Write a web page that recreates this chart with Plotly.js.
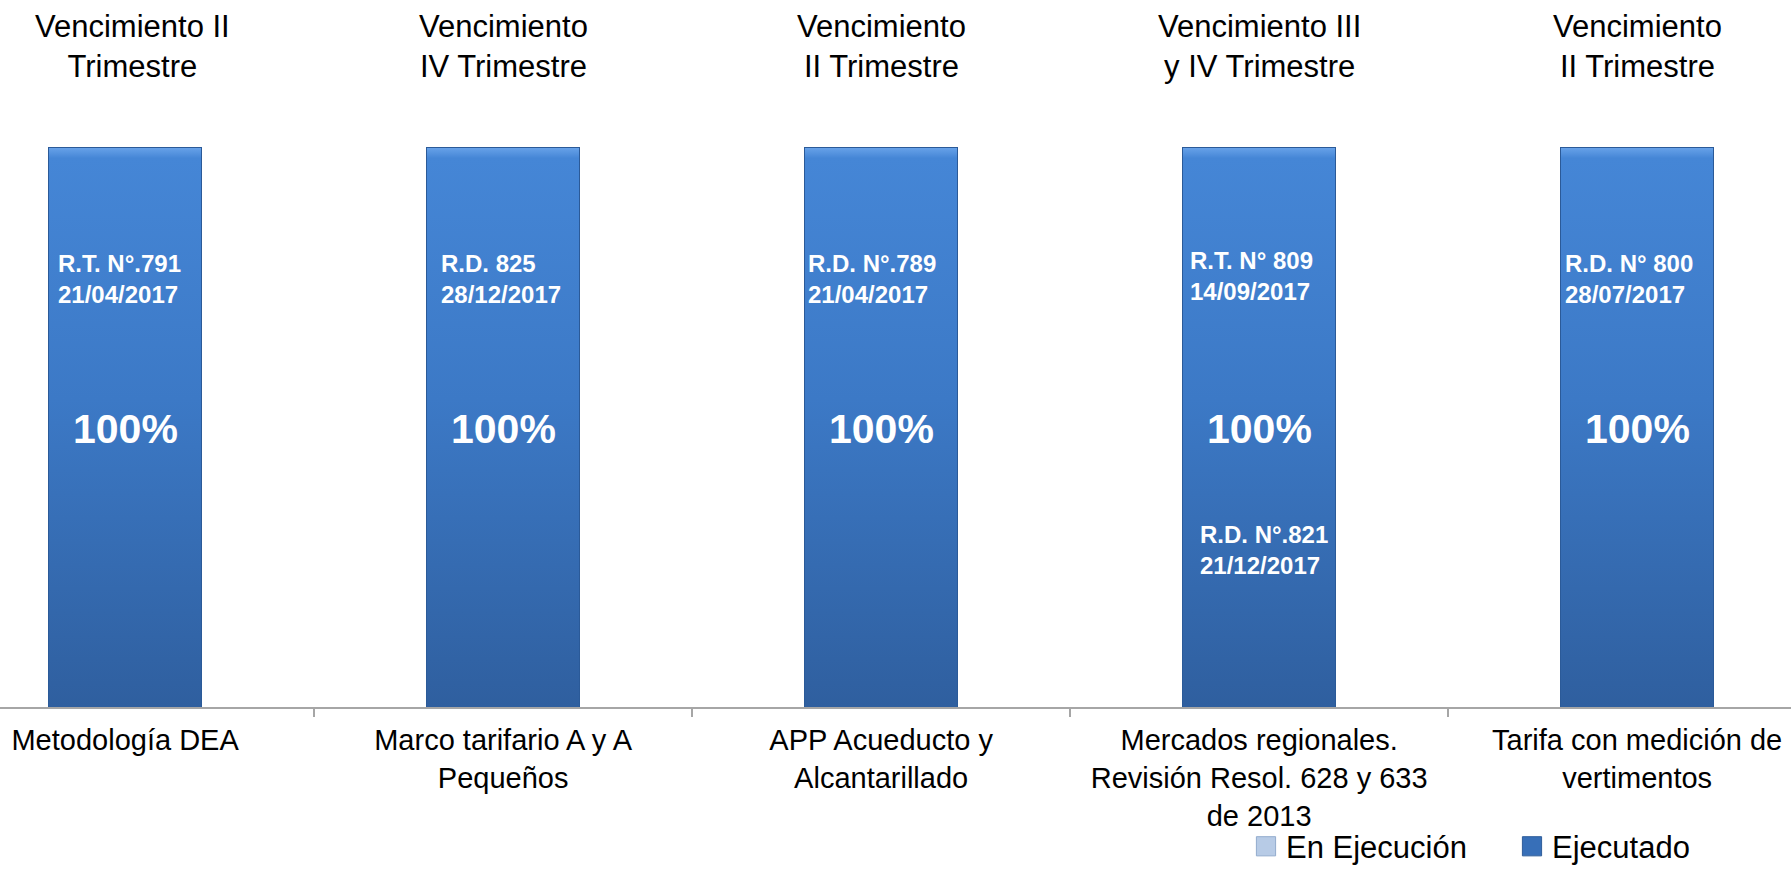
<!DOCTYPE html>
<html>
<head>
<meta charset="utf-8">
<script src="https://cdn.plot.ly/plotly-3.0.1.min.js"></script>
<style>
  html, body { margin: 0; padding: 0; background: #ffffff; }
  #chart { width: 1791px; height: 871px; }
</style>
</head>
<body>
<div id="chart"></div>
<script>
// ---- data ----
const categories = [
  'Metodología DEA',
  'Marco tarifario A y A<br>Pequeños',
  'APP Acueducto y<br>Alcantarillado',
  'Mercados regionales.<br>Revisión Resol. 628 y 633<br>de 2013',
  'Tarifa con medición de<br>vertimentos'
];
const vencimientos = [
  'Vencimiento II<br>Trimestre',
  'Vencimiento<br>IV Trimestre',
  'Vencimiento<br>II Trimestre',
  'Vencimiento III<br>y IV Trimestre',
  'Vencimiento<br>II Trimestre'
];
const enEjecucion = [0, 0, 0, 0, 0];
const ejecutado = [100, 100, 100, 100, 100];
const resolucionesSup = [
  'R.T. N°.791<br>21/04/2017',
  'R.D. 825<br>28/12/2017',
  'R.D. N°.789<br>21/04/2017',
  'R.T. N° 809<br>14/09/2017',
  'R.D. N° 800<br>28/07/2017'
];
const resolucionesInf = [null, null, null, 'R.D. N°.821<br>21/12/2017', null];

// ---- style ----
const FONT = 'Arial, "Liberation Sans", sans-serif';
const supOffset = [-0.183, -0.169, -0.198, -0.188, -0.196];
const supLevel = [76.4, 76.4, 76.4, 77.0, 76.4];
const infOffset = [0, 0, 0, -0.161, 0];
const infLevel = 28.1;
const pctLevel = 49.6;
const titleShift = [7, 0, 0, 0, 0];
const legendColors = ['#b7cbe6', '#376fb8'];

const traces = [
  {
    type: 'bar', name: 'En Ejecución', x: categories, y: enEjecucion,
    marker: { color: legendColors[0], line: { color: '#8fa9cc', width: 1 } },
    width: 0.405, textposition: 'none', hoverinfo: 'skip'
  },
  {
    type: 'bar', name: 'Ejecutado', x: categories, y: ejecutado,
    marker: { color: '#3b76c2', line: { color: '#2b5a98', width: 1 } },
    width: 0.405, textposition: 'none', hoverinfo: 'skip'
  }
];

const annotations = [];
vencimientos.forEach((t, i) => {
  annotations.push({
    x: i, xref: 'x', xshift: titleShift[i], y: 1.18, yref: 'paper', text: t, showarrow: false,
    xanchor: 'center', yanchor: 'middle', align: 'center',
    font: { family: FONT, size: 31, color: '#000000' }
  });
});
ejecutado.forEach((v, i) => {
  annotations.push({
    x: i, xref: 'x', y: pctLevel, yref: 'y', text: '<b>' + v + '%</b>', showarrow: false,
    xanchor: 'center', yanchor: 'middle',
    font: { family: FONT, size: 41, color: '#ffffff' }
  });
});
resolucionesSup.forEach((t, i) => {
  annotations.push({
    x: i + supOffset[i], xref: 'x', y: supLevel[i], yref: 'y', text: '<b>' + t + '</b>',
    showarrow: false, xanchor: 'left', yanchor: 'middle', align: 'left',
    font: { family: FONT, size: 24, color: '#ffffff' }
  });
});
resolucionesInf.forEach((t, i) => {
  if (!t) return;
  annotations.push({
    x: i + infOffset[i], xref: 'x', y: infLevel, yref: 'y', text: '<b>' + t + '</b>',
    showarrow: false, xanchor: 'left', yanchor: 'middle', align: 'left',
    font: { family: FONT, size: 24, color: '#ffffff' }
  });
});

const layout = {
  width: 1791, height: 871,
  margin: { l: 0, r: 0, t: 147, b: 164, pad: 0 },
  paper_bgcolor: '#ffffff', plot_bgcolor: '#ffffff',
  barmode: 'stack',
  font: { family: FONT, color: '#000000' },
  xaxis: {
    type: 'category', range: [-0.331, 4.407],
    showline: true, linecolor: '#a6a6a6', linewidth: 1.5,
    ticks: 'outside', tickson: 'boundaries', ticklen: 8, tickcolor: '#a6a6a6', tickwidth: 1.5,
    ticklabelstandoff: 7,
    tickfont: { family: FONT, size: 29, color: '#000000' },
    showgrid: false, zeroline: false, fixedrange: true, automargin: false
  },
  yaxis: { range: [0, 100], visible: false, showgrid: false, zeroline: false, fixedrange: true },
  showlegend: true,
  legend: {
    orientation: 'h', xref: 'container', yref: 'container',
    x: 0.6957, xanchor: 'left', y: 0.028, yanchor: 'middle',
    font: { family: FONT, size: 31, color: '#000000' },
    traceorder: 'normal', bgcolor: 'rgba(0,0,0,0)', entrywidth: 221
  },
  annotations: annotations
};

Plotly.newPlot('chart', traces, layout, { displayModeBar: false, staticPlot: true }).then(function (gd) {
  // visual shading only: vertical gradient on executed bars, larger legend swatches
  const svg = gd.querySelector('.main-svg');
  const ns = 'http://www.w3.org/2000/svg';
  let defs = svg.querySelector('defs');
  if (!defs) { defs = document.createElementNS(ns, 'defs'); svg.insertBefore(defs, svg.firstChild); }
  const grad = document.createElementNS(ns, 'linearGradient');
  grad.setAttribute('id', 'ejecGrad');
  grad.setAttribute('x1', '0'); grad.setAttribute('y1', '0');
  grad.setAttribute('x2', '0'); grad.setAttribute('y2', '1');
  [['0', '#6aa4ea'], ['0.02', '#4586d6'], ['0.45', '#3c79c6'], ['1', '#2f5f9f']].forEach(function (s) {
    const st = document.createElementNS(ns, 'stop');
    st.setAttribute('offset', s[0]); st.setAttribute('stop-color', s[1]);
    grad.appendChild(st);
  });
  defs.appendChild(grad);
  const barTraces = gd.querySelectorAll('.barlayer .trace');
  if (barTraces.length > 1) {
    barTraces[1].querySelectorAll('.point path').forEach(function (p) {
      p.style.fill = 'url(#ejecGrad)';
    });
  }
  gd.querySelectorAll('.legend .traces').forEach(function (g, i) {
    g.querySelectorAll('.legendpoints path').forEach(function (p) {
      const t = p.getAttribute('transform') || '';
      p.setAttribute('transform', t + ' scale(1.6)');
      p.style.fill = legendColors[i] || legendColors[1];
      p.style.strokeWidth = '0.6px';
    });
  });
});
</script>
</body>
</html>
